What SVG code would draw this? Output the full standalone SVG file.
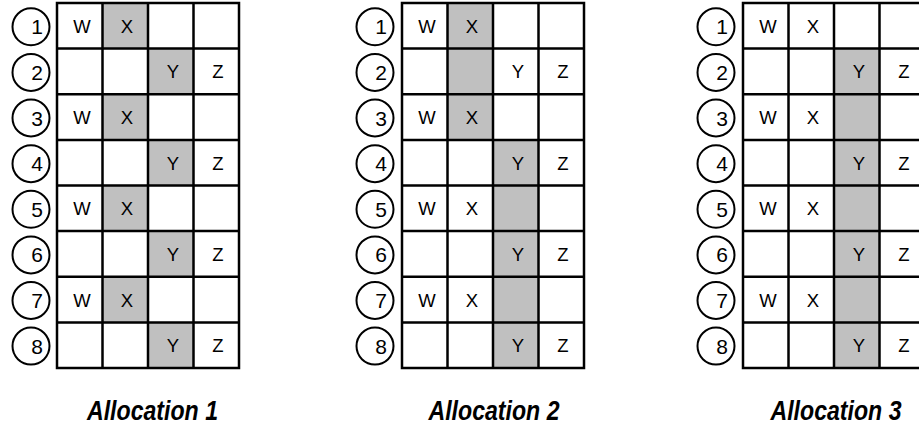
<svg xmlns="http://www.w3.org/2000/svg" width="919" height="428" viewBox="0 0 919 428">
<style>
.g{fill:#c0c0c0;stroke:none}
.ln{stroke:#000;stroke-width:2.5;fill:none}
.c{fill:#fff;stroke:#000;stroke-width:2}
.t{font-family:"Liberation Sans",Arial,sans-serif;font-size:18.5px;fill:#000;text-anchor:middle}
.n{font-family:"Liberation Sans",Arial,sans-serif;font-size:21px;fill:#000;text-anchor:middle}
.cap{font-family:"Liberation Sans",Arial,sans-serif;font-size:27px;font-weight:bold;font-style:italic;fill:#000;text-anchor:middle}
</style>
<defs>
<g id="nums">
<circle class="c" cx="0" cy="26.8" r="18.5"/><text class="n" x="6" y="34.3">1</text>
<circle class="c" cx="0" cy="72.4" r="18.5"/><text class="n" x="6" y="79.9">2</text>
<circle class="c" cx="0" cy="118" r="18.5"/><text class="n" x="6" y="125.5">3</text>
<circle class="c" cx="0" cy="163.7" r="18.5"/><text class="n" x="6" y="171.2">4</text>
<circle class="c" cx="0" cy="209.3" r="18.5"/><text class="n" x="6" y="216.8">5</text>
<circle class="c" cx="0" cy="254.9" r="18.5"/><text class="n" x="6" y="262.4">6</text>
<circle class="c" cx="0" cy="300.5" r="18.5"/><text class="n" x="6" y="308">7</text>
<circle class="c" cx="0" cy="346.1" r="18.5"/><text class="n" x="6" y="353.6">8</text>
</g>
<g id="letters">
<text class="t" x="25" y="32.8">W</text><text class="t" x="70" y="32.8">X</text>
<text class="t" x="116" y="78.4">Y</text><text class="t" x="161" y="78.4">Z</text>
<text class="t" x="25" y="124">W</text><text class="t" x="70" y="124">X</text>
<text class="t" x="116" y="169.7">Y</text><text class="t" x="161" y="169.7">Z</text>
<text class="t" x="25" y="215.3">W</text><text class="t" x="70" y="215.3">X</text>
<text class="t" x="116" y="260.9">Y</text><text class="t" x="161" y="260.9">Z</text>
<text class="t" x="25" y="306.5">W</text><text class="t" x="70" y="306.5">X</text>
<text class="t" x="116" y="352.1">Y</text><text class="t" x="161" y="352.1">Z</text>
</g>
<g id="grid">
<rect class="ln" x="0" y="3" width="182" height="365"/>
<path class="ln" d="M45.5 3V368M91 3V368M136.5 3V368M0 48.6H182M0 94.25H182M0 139.9H182M0 185.5H182M0 231.1H182M0 276.75H182M0 322.4H182"/>
</g>
</defs>

<g id="allocation1">
<g transform="translate(57,0)">
<rect class="g" x="45.5" y="3" width="45.5" height="45.6"/>
<rect class="g" x="91" y="48.6" width="45.5" height="45.6"/>
<rect class="g" x="45.5" y="94.25" width="45.5" height="45.6"/>
<rect class="g" x="91" y="139.9" width="45.5" height="45.6"/>
<rect class="g" x="45.5" y="185.5" width="45.5" height="45.6"/>
<rect class="g" x="91" y="231.1" width="45.5" height="45.6"/>
<rect class="g" x="45.5" y="276.75" width="45.5" height="45.6"/>
<rect class="g" x="91" y="322.4" width="45.5" height="45.6"/>
<use href="#letters"/>
<use href="#grid"/>
</g>
<use href="#nums" transform="translate(31,0)"/>
<text class="cap" x="152.5" y="420" textLength="131" lengthAdjust="spacingAndGlyphs">Allocation 1</text>
</g>

<g id="allocation2">
<g transform="translate(402,0)">
<rect class="g" x="45.5" y="3" width="45.5" height="137"/>
<rect class="g" x="91" y="139.9" width="45.5" height="228"/>
<use href="#letters"/>
<use href="#grid"/>
</g>
<use href="#nums" transform="translate(375,0)"/>
<text class="cap" x="494" y="420" textLength="131" lengthAdjust="spacingAndGlyphs">Allocation 2</text>
</g>

<g id="allocation3">
<g transform="translate(743,0)">
<rect class="g" x="91" y="48.6" width="45.5" height="319.4"/>
<use href="#letters"/>
<use href="#grid"/>
</g>
<use href="#nums" transform="translate(716,0)"/>
<text class="cap" x="836" y="420" textLength="131" lengthAdjust="spacingAndGlyphs">Allocation 3</text>
</g>
</svg>
